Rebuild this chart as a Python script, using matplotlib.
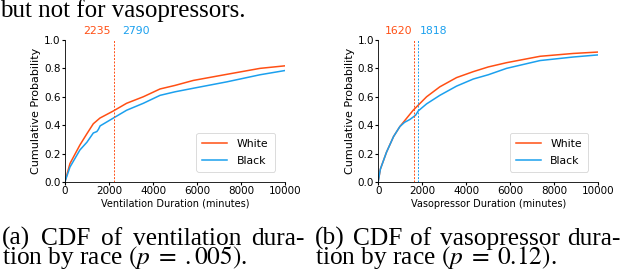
import matplotlib
matplotlib.use('Agg')
import matplotlib.pyplot as plt
import numpy as np

plt.rcParams['mathtext.fontset'] = 'stix'

# CDF points (minutes, cumulative probability)
vent_x_white = [0, 230, 680, 1000, 1290, 1590, 2200, 2800, 3560, 4320, 5000, 5830, 7350, 8860, 10000]
vent_y_white = [0.0, 0.13, 0.26, 0.34, 0.41, 0.45, 0.50, 0.554, 0.60, 0.655, 0.68, 0.715, 0.758, 0.80, 0.818]
vent_x_black = [0, 230, 680, 1000, 1290, 1450, 1520, 1600, 2200, 2800, 3560, 4320, 5000, 5830, 7350, 8860, 10000]
vent_y_black = [0.0, 0.105, 0.225, 0.28, 0.345, 0.355, 0.37, 0.395, 0.45, 0.505, 0.554, 0.61, 0.635, 0.66, 0.705, 0.755, 0.785]

vaso_x_white = [0, 100, 380, 700, 985, 1300, 1590, 2200, 2800, 3560, 4320, 5000, 5830, 7350, 8860, 10000]
vaso_y_white = [0.0, 0.09, 0.21, 0.32, 0.39, 0.45, 0.505, 0.60, 0.67, 0.735, 0.777, 0.81, 0.84, 0.885, 0.905, 0.915]
vaso_x_black = [0, 100, 380, 700, 985, 1200, 1440, 1700, 1818, 2200, 2800, 3560, 4320, 5000, 5830, 7350, 8860, 10000]
vaso_y_black = [0.0, 0.09, 0.21, 0.32, 0.39, 0.42, 0.44, 0.47, 0.50, 0.55, 0.61, 0.675, 0.725, 0.755, 0.80, 0.855, 0.88, 0.895]

vent_medians = [2235, 2790]
vaso_medians = [1620, 1818]
series_names = ['White', 'Black']
ticks_x = [0, 2000, 4000, 6000, 8000, 10000]
ticks_y = [0.0, 0.2, 0.4, 0.6, 0.8, 1.0]

orange = '#ff4f14'
blue = '#1ba0ee'

W, H = 624, 270
fig = plt.figure(figsize=(W / 100, H / 100), dpi=100)

serif = 'Liberation Serif'
fig.text(0.0, 1 - 17 / H, 'but not for vasopressors.', family=serif,
         fontsize=18, va='baseline', ha='left')


def panel(rect, xw, yw, xb, yb, medians, show_lines, xlabel):
    ax = fig.add_axes(rect)
    ax.plot(xw, yw, color=orange, lw=1.1, label=series_names[0])
    ax.plot(xb, yb, color=blue, lw=1.1, label=series_names[1])
    cols = [orange, blue]
    for i, m in enumerate(medians):
        if show_lines[i]:
            ax.axvline(m, color=cols[i], ls='--', lw=0.7, dashes=(2, 1.5))
    ax.set_xlim(0, 10000)
    ax.set_ylim(0, 1.0)
    ax.set_xticks(ticks_x)
    ax.set_yticks(ticks_y)
    ax.tick_params(labelsize=7.5, length=2, pad=1)
    ax.spines['top'].set_visible(False)
    ax.spines['right'].set_visible(False)
    ax.spines['left'].set_linewidth(0.6)
    ax.spines['bottom'].set_linewidth(0.6)
    ax.set_xlabel(xlabel, fontsize=7, labelpad=2)
    ax.set_ylabel('Cumulative Probability', fontsize=8, labelpad=2)
    leg = ax.legend(loc='lower right', fontsize=7.8, handlelength=2.3,
                    frameon=True, borderpad=0.55, labelspacing=0.6,
                    handletextpad=0.9, bbox_to_anchor=(0.977, 0.035))
    leg.get_frame().set_linewidth(0.6)
    return ax


ax1 = panel([0.104, 0.326, 0.353, 0.526], vent_x_white, vent_y_white,
            vent_x_black, vent_y_black, vent_medians, [True, False],
            'Ventilation Duration (minutes)')
ax2 = panel([0.606, 0.326, 0.353, 0.526], vaso_x_white, vaso_y_white,
            vaso_x_black, vaso_y_black, vaso_medians, [True, True],
            'Vasopressor Duration (minutes)')

ax1.text(vent_medians[0] - 150, 1.025, str(vent_medians[0]), color=orange,
         fontsize=7.8, ha='right', va='bottom')
ax1.text(vent_medians[0] + 350, 1.025, str(vent_medians[1]), color=blue,
         fontsize=7.8, ha='left', va='bottom')
ax2.text(vaso_medians[0] - 80, 1.025, str(vaso_medians[0]), color=orange,
         fontsize=7.8, ha='right', va='bottom')
ax2.text(vaso_medians[1] + 80, 1.025, str(vaso_medians[1]), color=blue,
         fontsize=7.8, ha='left', va='bottom')

# captions: first line justified like LaTeX, second line ragged
cap_kw = dict(family=serif, fontsize=18.3, va='baseline', ha='left')
captions = [('(a) CDF of ventilation dura-', r'tion by race $(p\;=\;.005)$.'),
            ('(b) CDF of vasopressor dura-', r'tion by race $(p\;=\;0.12)$.')]
spans = [(2, 305), (315, 621)]
renderer = fig.canvas.get_renderer()
for (x_l, x_r), (l1, l2) in zip(spans, captions):
    words = l1.split(' ')
    objs = [fig.text(0, 1 - 245 / H, w, **cap_kw) for w in words]
    widths = [o.get_window_extent(renderer).width for o in objs]
    gap = (x_r - x_l - sum(widths)) / (len(words) - 1)
    x = x_l
    for o, w in zip(objs, widths):
        o.set_x(x / W)
        x += w + gap
    fig.text(x_l / W, 1 - 264 / H, l2, **cap_kw)

fig.savefig('out.png', dpi=100)
